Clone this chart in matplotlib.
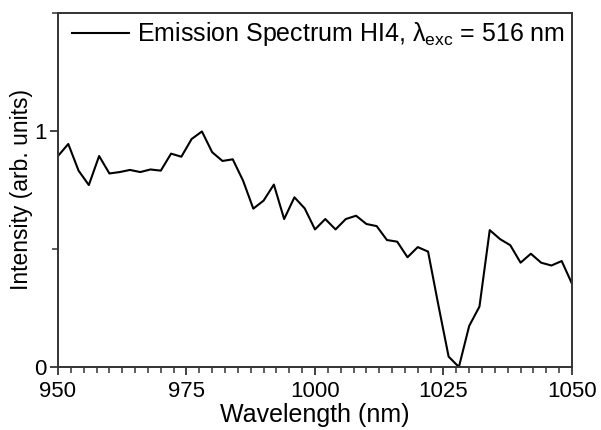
import numpy as np
import matplotlib
matplotlib.use("Agg")
import matplotlib.pyplot as plt
from matplotlib.ticker import MultipleLocator

plt.rcParams['font.family'] = ['Liberation Sans', 'DejaVu Sans']
plt.rcParams['mathtext.fontset'] = 'custom'
plt.rcParams['mathtext.rm'] = 'Liberation Sans'
plt.rcParams['mathtext.it'] = 'Liberation Sans'

# emission spectrum, normalised intensity
wavelength = np.arange(950, 1051, 2)
intensity = [0.894, 0.945, 0.832, 0.771, 0.894, 0.820, 0.826, 0.835, 0.826, 0.837,
             0.832, 0.904, 0.891, 0.966, 0.998, 0.910, 0.873, 0.880, 0.790, 0.671,
             0.705, 0.773, 0.627, 0.719, 0.672, 0.583, 0.627, 0.583, 0.627, 0.641,
             0.606, 0.597, 0.538, 0.531, 0.465, 0.508, 0.489, 0.263, 0.044, 0.000,
             0.174, 0.256, 0.580, 0.542, 0.516, 0.442, 0.480, 0.442, 0.430, 0.449,
             0.353]

fig = plt.figure(figsize=(6.01, 4.30), dpi=100)
ax = fig.add_axes([0.0965, 0.1465, 0.8552, 0.8233])

ax.plot(wavelength, intensity, color='black', lw=1.5,
        label=r'Emission Spectrum HI4, $\mathregular{\lambda_{exc}}$ = 516 nm')

ax.set_xlim(950, 1050)
ax.set_ylim(0, 1.5)
ax.xaxis.set_major_locator(MultipleLocator(25))
ax.xaxis.set_minor_locator(MultipleLocator(2.5))
ax.yaxis.set_major_locator(MultipleLocator(1))
ax.yaxis.set_minor_locator(MultipleLocator(0.5))

for s in ax.spines.values():
    s.set_linewidth(1.4)
    s.set_color('#333333')
ax.tick_params(which='major', direction='out', length=6, width=1.3,
               labelsize=16, color='#333333')
ax.tick_params(axis='x', which='major', pad=4)
ax.tick_params(axis='y', which='major', pad=2)
ax.tick_params(which='minor', direction='out', length=4, width=1.1,
               color='#333333')

ax.set_xlabel('Wavelength (nm)', fontsize=18, labelpad=1)
ax.set_ylabel('Intensity (arb. units)', fontsize=16.5, labelpad=1)

ax.legend(loc='upper right', frameon=False, fontsize=18,
          handlelength=2.3, handletextpad=0.3,
          borderaxespad=0.1, borderpad=0.2)

fig.savefig('out.png', dpi=100)
